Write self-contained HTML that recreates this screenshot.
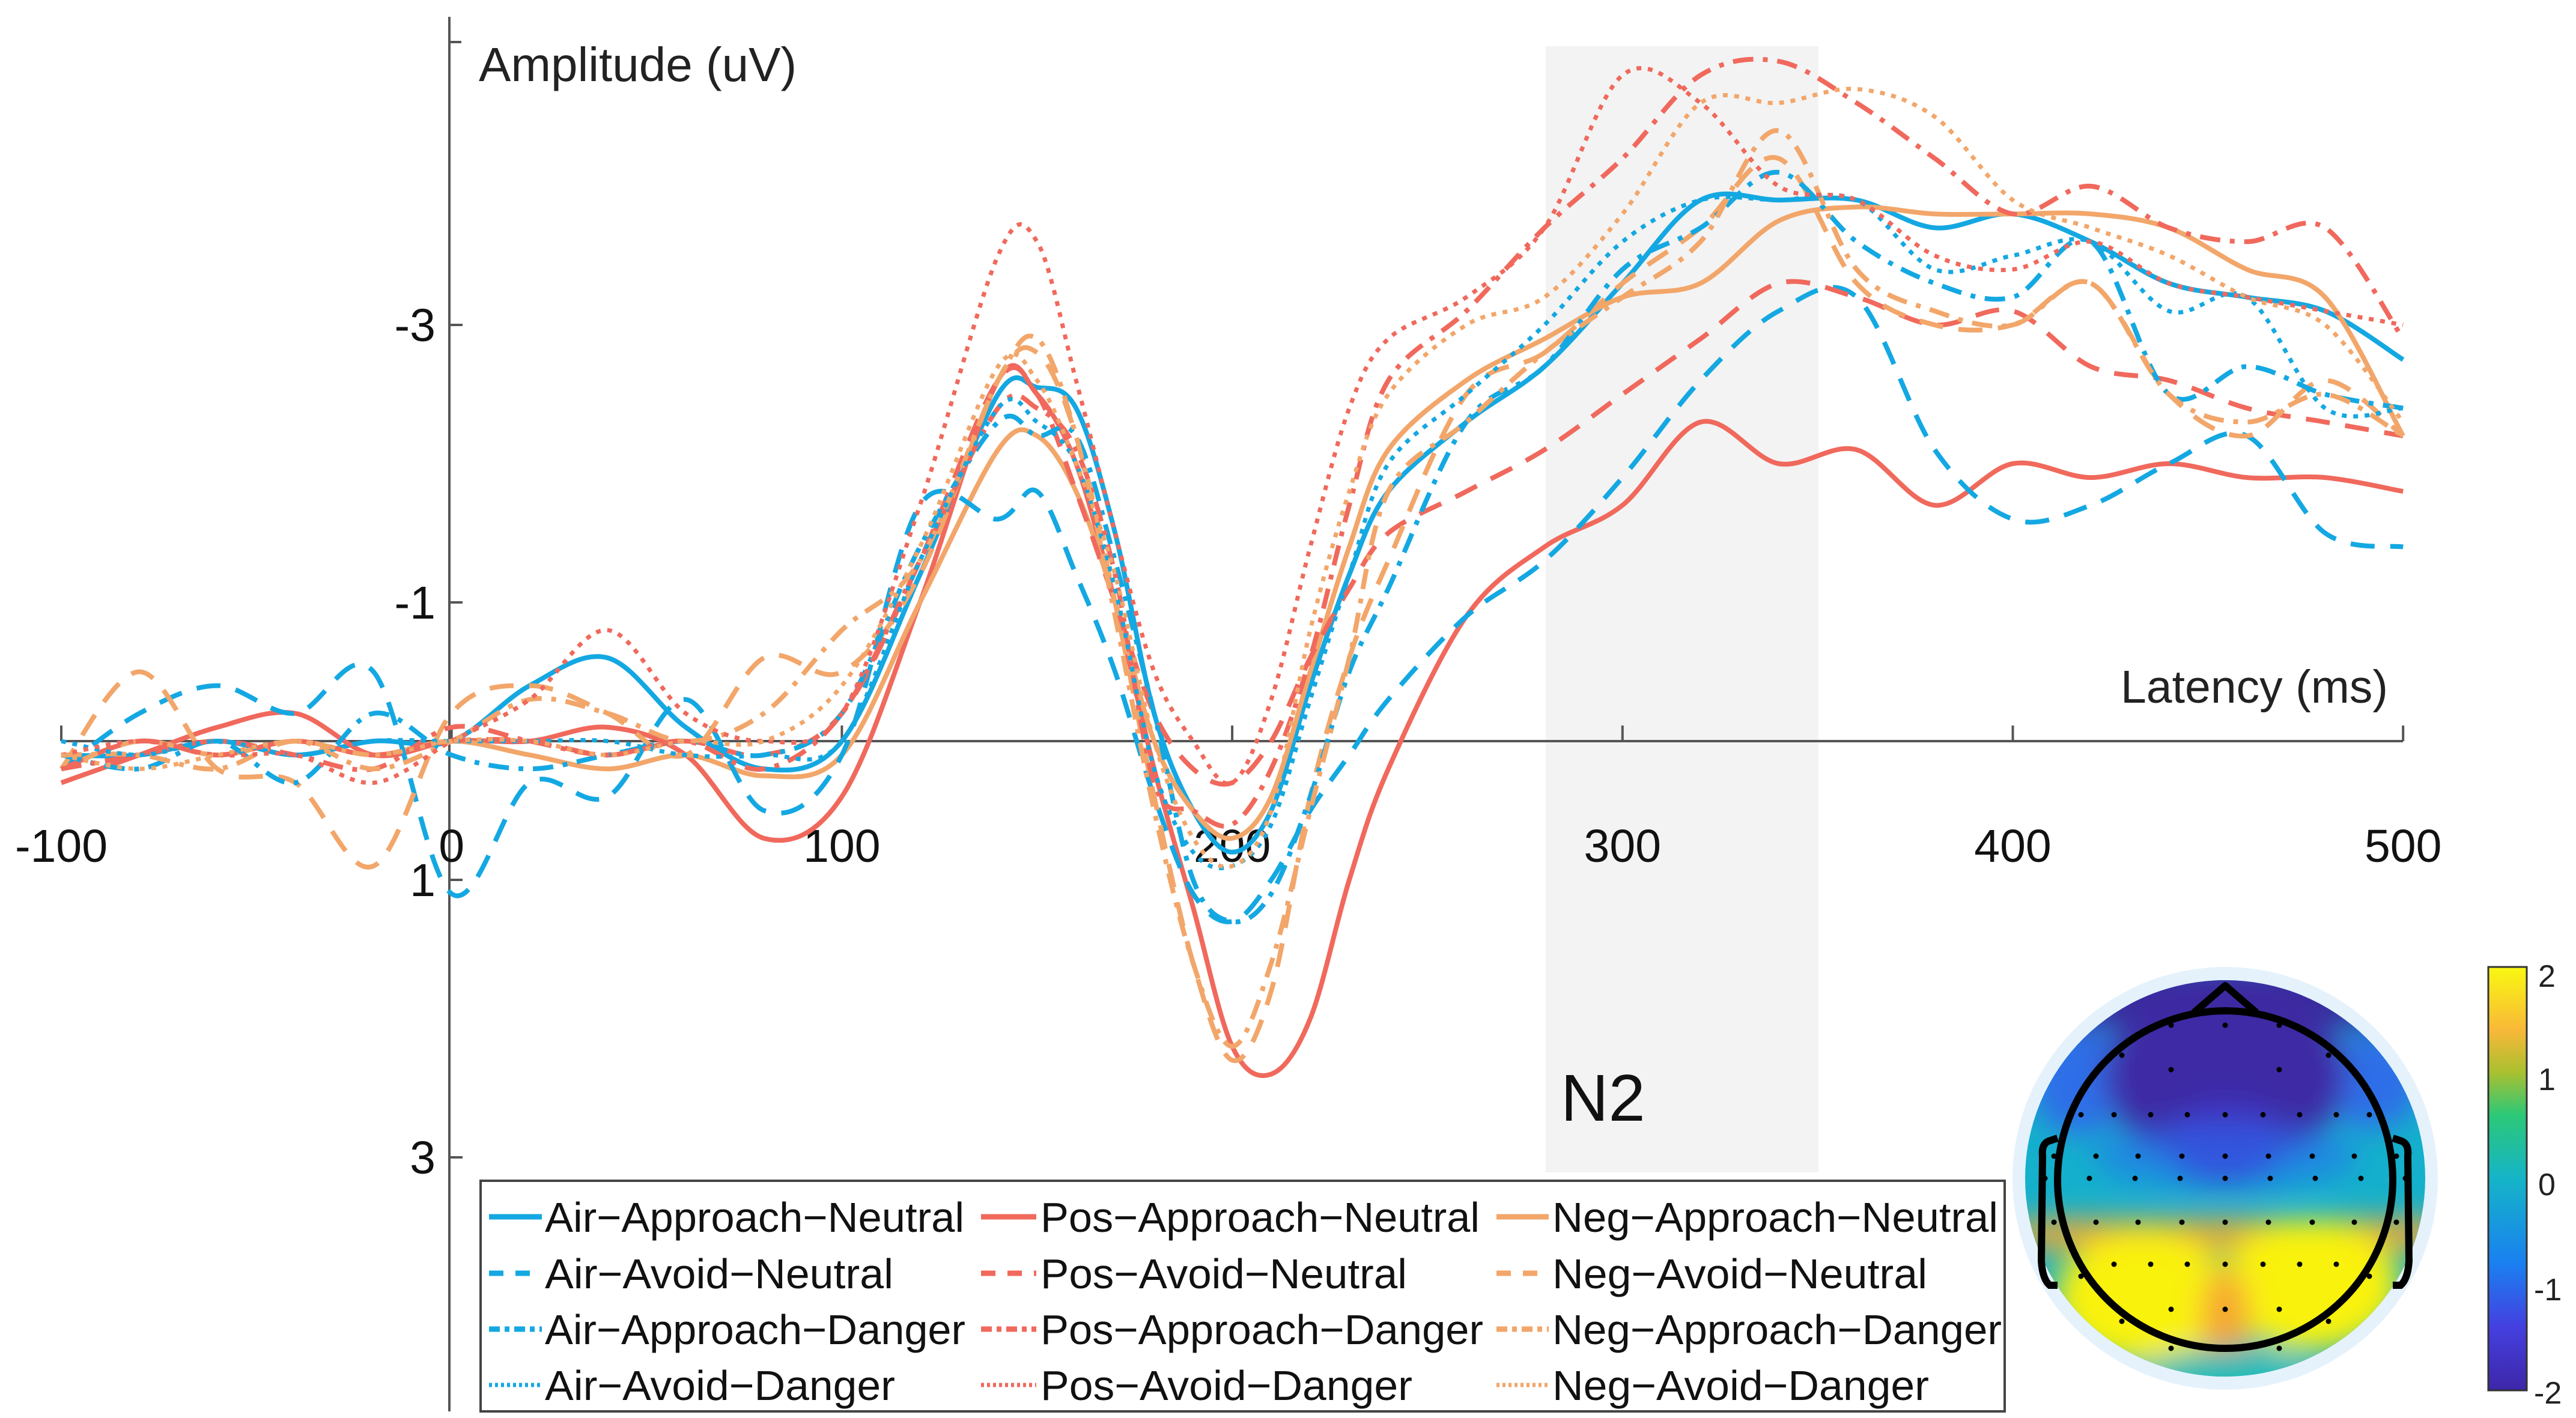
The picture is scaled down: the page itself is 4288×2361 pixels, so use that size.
<!DOCTYPE html>
<html><head><meta charset="utf-8"><style>
html,body{margin:0;padding:0;background:#fff}
svg{display:block;font-family:"Liberation Sans",sans-serif}
</style></head><body>
<svg id="chart" width="4288" height="2361" viewBox="0 0 4288 2361" xmlns="http://www.w3.org/2000/svg">
<defs>
<clipPath id="topoClip"><ellipse cx="3704" cy="1962" rx="333" ry="330"/></clipPath>
<filter id="blur" x="-50%" y="-50%" width="200%" height="200%"><feGaussianBlur stdDeviation="24"/></filter>
<linearGradient id="parula" x1="0" y1="1" x2="0" y2="0">
<stop offset="0" stop-color="#3e26a8"/><stop offset="0.15" stop-color="#4440e0"/>
<stop offset="0.3" stop-color="#1a80f0"/><stop offset="0.5" stop-color="#15b4c8"/>
<stop offset="0.65" stop-color="#2cc878"/><stop offset="0.75" stop-color="#a8c030"/>
<stop offset="0.85" stop-color="#f8b838"/><stop offset="1" stop-color="#f9f812"/>
</linearGradient>
</defs>
<rect x="2573" y="77" width="454" height="1875" fill="#f3f3f3"/>
<g id="axes"></g>
<g id="series"></g>
<text x="797" y="135" font-size="80" fill="#222">Amplitude (uV)</text>
<text x="3975" y="1170" font-size="77" fill="#222" text-anchor="end">Latency (ms)</text>
<text x="2598" y="1866" font-size="110" fill="#111">N2</text>
<g id="legend">
<rect x="800" y="1966" width="2537" height="384" fill="#fff" stroke="#444" stroke-width="4"/>
</g>
<g>
<ellipse cx="3704" cy="1962" rx="354" ry="352" fill="#e5f2fc"/>
<g clip-path="url(#topoClip)">
<rect x="3360" y="1620" width="700" height="700" fill="#14b0cc"/>
<g filter="url(#blur)">
<rect x="3360" y="1600" width="700" height="110" fill="#3a2a9e"/>
<ellipse cx="3460" cy="1800" rx="80" ry="90" fill="#2f6ee8"/>
<ellipse cx="3950" cy="1800" rx="80" ry="80" fill="#2f6ee8"/>
<ellipse cx="3704" cy="1790" rx="200" ry="150" fill="#3c2aa4"/>
<ellipse cx="3704" cy="1900" rx="95" ry="70" fill="#4030c0"/>
<ellipse cx="3704" cy="1925" rx="220" ry="55" fill="#2a6ef0" opacity="0.6"/>
<rect x="3360" y="2030" width="700" height="50" fill="#f0a830"/>
<ellipse cx="3570" cy="2160" rx="150" ry="110" fill="#f9f20e"/>
<ellipse cx="3845" cy="2140" rx="150" ry="110" fill="#f9f20e"/>
<ellipse cx="3704" cy="2200" rx="40" ry="90" fill="#f5a530"/>
<ellipse cx="3704" cy="2300" rx="150" ry="55" fill="#1cbcb8"/>
</g>
</g>
<ellipse cx="3704" cy="1964" rx="279" ry="281" fill="none" stroke="#000" stroke-width="12"/>
<path d="M3652 1686 L3704 1641 L3756 1686" fill="none" stroke="#000" stroke-width="12" stroke-linejoin="round"/>
<path d="M3425 1895 L3410 1900 Q3398 1905 3400 1925 L3398 2100 Q3400 2130 3412 2140 L3425 2140" fill="none" stroke="#000" stroke-width="12"/>
<path d="M3983 1895 L3998 1900 Q4010 1905 4008 1925 L4010 2100 Q4008 2130 3996 2140 L3983 2140" fill="none" stroke="#000" stroke-width="12"/>
<g id="dots" fill="#000"></g>
</g>
<g>
<rect x="4142" y="1610" width="64" height="705" fill="url(#parula)" stroke="#333" stroke-width="3"/>
<g font-size="52" fill="#222">
<text x="4225" y="1643">2</text><text x="4225" y="1815">1</text><text x="4225" y="1990">0</text>
<text x="4218" y="2165">-1</text><text x="4218" y="2337">-2</text>
</g>
</g>
</svg>
<script>
const times = [-100,-80,-60,-40,-20,0,20,40,60,80,100,120,140,150,160,170,180,190,200,210,220,230,240,260,280,300,320,340,360,380,400,420,440,460,480,500];
const xTicks = [-100,0,100,200,300,400,500];
const yTicks = [-3,-1,1,3];
const seriesNames = ["Air−Approach−Neutral","Pos−Approach−Neutral","Neg−Approach−Neutral","Air−Avoid−Neutral","Pos−Avoid−Neutral","Neg−Avoid−Neutral","Air−Approach−Danger","Pos−Approach−Danger","Neg−Approach−Danger","Air−Avoid−Danger","Pos−Avoid−Danger","Neg−Avoid−Danger"];
const airApproachNeutral = [0.1,0.1,0,0.1,0,0,-0.4,-0.6,-0.1,0.2,0,-1.2,-2.5,-2.55,-2.4,-1.5,-0.2,0.5,0.8,0.5,-0.4,-1.2,-1.8,-2.3,-2.7,-3.3,-3.9,-3.9,-3.9,-3.7,-3.8,-3.6,-3.3,-3.2,-3.1,-2.75];
const posApproachNeutral = [0.3,0.1,-0.1,-0.2,0.1,0,0,-0.1,0.1,0.7,0.4,-1.0,-2.6,-2.5,-2.0,-1.0,0.2,1.2,2.2,2.4,2.0,1.0,0.2,-0.9,-1.4,-1.7,-2.3,-2.0,-2.1,-1.7,-2.0,-1.9,-2.0,-1.9,-1.9,-1.8];
const negApproachNeutral = [0.2,0,0.1,0,0.1,0,0.1,0.2,0.1,0.25,0.1,-1.0,-2.1,-2.2,-1.8,-1.0,0.0,0.5,0.7,0.4,-0.5,-1.4,-2.1,-2.6,-2.9,-3.2,-3.3,-3.75,-3.85,-3.8,-3.8,-3.8,-3.7,-3.4,-3.2,-2.2];
const airAvoidNeutral = [0.2,-0.2,-0.4,-0.2,-0.5,1.1,0.3,0.4,-0.3,0.5,0.1,-1.7,-1.6,-1.8,-1.2,-0.5,0.4,1.1,1.3,1.0,0.5,0.1,-0.3,-0.9,-1.3,-1.9,-2.6,-3.1,-3.2,-2.1,-1.6,-1.7,-2.0,-2.2,-1.5,-1.4];
const posAvoidNeutral = [0.2,0,0.1,0,0.1,0,0,0.1,0,0.1,-0.2,-1.3,-2.6,-2.5,-1.8,-1.0,-0.2,0.2,0.3,0,-0.6,-1.1,-1.5,-1.8,-2.1,-2.5,-2.9,-3.3,-3.2,-3.0,-3.1,-2.7,-2.6,-2.4,-2.3,-2.2];
const negAvoidNeutral = [0.2,-0.5,0.2,0.3,0.9,-0.2,-0.4,-0.2,0.1,-0.6,-0.5,-1.2,-2.6,-2.8,-2.2,-1.0,0.4,1.6,2.3,1.8,0.4,-0.6,-1.3,-2.5,-2.8,-3.3,-3.7,-4.2,-3.3,-3.0,-3.0,-3.3,-2.5,-2.2,-2.6,-2.2];
const airApproachDanger = [0.1,0.2,0,0.3,-0.2,0.1,0.2,0.1,0,0.1,-0.2,-1.4,-2.3,-2.2,-2.2,-1.3,-0.2,1.0,1.3,1.1,0.4,-0.5,-1.1,-2.3,-2.7,-3.4,-3.7,-4.1,-3.6,-3.3,-3.2,-3.6,-2.5,-2.7,-2.5,-2.4];
const posApproachDanger = [0.2,0.1,0,0.1,0.2,-0.1,0,0.1,0,0.2,-0.2,-1.3,-2.4,-2.4,-2.1,-1.2,0.3,0.5,0.6,0.2,-0.6,-1.7,-2.6,-3.1,-3.7,-4.2,-4.8,-4.9,-4.6,-4.2,-3.8,-4.0,-3.7,-3.6,-3.7,-2.9];
const negApproachDanger = [0.1,0.1,0.2,0,0.2,0,-0.3,-0.2,0,-0.2,-0.8,-1.3,-2.6,-2.9,-2.2,-0.9,0.5,1.6,2.2,1.6,0.5,-0.6,-1.8,-2.3,-2.8,-3.2,-3.6,-4.4,-3.4,-3.1,-3.0,-3.3,-2.5,-2.3,-2.5,-2.2];
const airAvoidDanger = [0,0.1,0,0.1,0,0,0,0,0.1,0.1,0,-1.3,-2.4,-2.3,-2.0,-1.1,0.2,0.8,0.9,0.6,-0.3,-1.2,-2.0,-2.5,-3.0,-3.6,-3.9,-3.9,-3.9,-3.4,-3.5,-3.6,-3.1,-3.2,-2.4,-2.4];
const posAvoidDanger = [0.1,0,0.1,0.1,0.3,0,-0.3,-0.8,-0.2,0,-0.2,-1.7,-3.5,-3.6,-2.6,-1.5,-0.5,0,0.3,-0.3,-1.4,-2.4,-2.9,-3.2,-3.7,-4.8,-4.6,-4.0,-3.9,-3.5,-3.4,-3.6,-3.3,-3.2,-3.1,-3.0];
const negAvoidDanger = [0.1,0.2,0.1,0,0.1,0,0,0.1,0,0,-0.4,-1.4,-2.7,-2.6,-2.0,-1.2,0,0.7,0.9,0.5,-0.8,-1.8,-2.5,-3.0,-3.2,-3.8,-4.6,-4.6,-4.7,-4.5,-3.9,-3.7,-3.5,-3.2,-3.0,-2.3];

const NS = "http://www.w3.org/2000/svg";
const xs = ms => 102 + (ms + 100) * 6.497;
const ys = v => 1234 + v * 231;
const BLUE = "#14a8e2", RED = "#f0695c", ORANGE = "#f2a66a";
const DASH = {solid:null, dashed:"40 26", dashdot:"34 16 8 16", dotted:"8 11"};
const styles = [
 [BLUE,"solid"],[RED,"solid"],[ORANGE,"solid"],
 [BLUE,"dashed"],[RED,"dashed"],[ORANGE,"dashed"],
 [BLUE,"dashdot"],[RED,"dashdot"],[ORANGE,"dashdot"],
 [BLUE,"dotted"],[RED,"dotted"],[ORANGE,"dotted"]];
const allValues = [airApproachNeutral,posApproachNeutral,negApproachNeutral,airAvoidNeutral,posAvoidNeutral,negAvoidNeutral,airApproachDanger,posApproachDanger,negApproachDanger,airAvoidDanger,posAvoidDanger,negAvoidDanger];
const keys = ["air-approach-neutral","pos-approach-neutral","neg-approach-neutral","air-avoid-neutral","pos-avoid-neutral","neg-avoid-neutral","air-approach-danger","pos-approach-danger","neg-approach-danger","air-avoid-danger","pos-avoid-danger","neg-avoid-danger"];

function mk(tag, attrs, parent){const e=document.createElementNS(NS,tag);for(const k in attrs)e.setAttribute(k,attrs[k]);parent.appendChild(e);return e;}

const axes = document.getElementById("axes");
const xAxis = mk("line",{x1:102,x2:4000,y1:ys(0),y2:ys(0),stroke:"#555","stroke-width":4},axes);


const yAxis = mk("line",{x1:748,x2:748,y1:28,y2:2350,stroke:"#555","stroke-width":4},axes);


mk("line",{x1:748,x2:768,y1:70,y2:70,stroke:"#555","stroke-width":4},axes);
xTicks.forEach(t=>{
 mk("line",{x1:xs(t),x2:xs(t),y1:ys(0),y2:ys(0)-26,stroke:"#555","stroke-width":4},axes);
 const lb = mk("text",{x:xs(t),y:1435,"font-size":77,"text-anchor":"middle",fill:"#111"},axes);
 lb.textContent = String(t);
 
 
});
yTicks.forEach(t=>{
 mk("line",{x1:748,x2:770,y1:ys(t),y2:ys(t),stroke:"#555","stroke-width":4},axes);
 const lb = mk("text",{x:725,y:ys(t)+27,"font-size":77,"text-anchor":"end",fill:"#111"},axes);
 lb.textContent = String(t);
 
 
});

function pathFor(vals){
 const p = times.map((t,i)=>[xs(t),ys(vals[i])]);
 let d = "M"+p[0][0].toFixed(1)+" "+p[0][1].toFixed(1);
 for(let i=0;i<p.length-1;i++){
  const p0=p[Math.max(0,i-1)],p1=p[i],p2=p[i+1],p3=p[Math.min(p.length-1,i+2)];
  const c1=[p1[0]+(p2[0]-p0[0])/6,p1[1]+(p2[1]-p0[1])/6];
  const c2=[p2[0]-(p3[0]-p1[0])/6,p2[1]-(p3[1]-p1[1])/6];
  d+=" C"+c1[0].toFixed(1)+" "+c1[1].toFixed(1)+" "+c2[0].toFixed(1)+" "+c2[1].toFixed(1)+" "+p2[0].toFixed(1)+" "+p2[1].toFixed(1);
 }
 return d;
}
const sg = document.getElementById("series");
allValues.forEach((vals,i)=>{
 const [col,ls]=styles[i];
 const a={d:pathFor(vals),fill:"none",stroke:col,"stroke-width":ls==="dotted"?7:8,"stroke-linejoin":"round"};
 if(DASH[ls]) a["stroke-dasharray"]=DASH[ls];
 const el = mk("path",a,sg);
 
 
});

const lg = document.getElementById("legend");
const colLine = [[814,902],[1633,1725],[2491,2578]];
const colText = [907,1732,2584];
const rowY = [2026,2120,2213,2306];
const textW = [698,731,742,580,610,624,700,737,748,583,619,627];
seriesNames.forEach((n,i)=>{
 const c=i%3, r=Math.floor(i/3);
 const [col,ls]=styles[i];
 const a={x1:colLine[c][0],x2:colLine[c][1],y1:rowY[r],y2:rowY[r],stroke:col,"stroke-width":ls==="dotted"?7:9};
 if(DASH[ls]) a["stroke-dasharray"]=ls==="dashed"?"24 20":ls==="dashdot"?"18 8 8 8":"5 5";
 const ln = mk("line",a,lg);
 
 
 const tx = mk("text",{x:colText[c],y:rowY[r]+25,"font-size":70,fill:"#111",textLength:textW[i],lengthAdjust:"spacingAndGlyphs"},lg);
 tx.textContent = n;
 
 
});

const dg = document.getElementById("dots");
const dotRows = [[1707,[-90,0,90]],[1757,[-172,172]],[1781,[-90,90]],[1856,[-240,-185,-124,-63,0,63,124,185,240]],[1925,[-285,-215,-145,-72,0,72,145,215,285]],[1962,[-300,-226,-150,-75,0,75,150,226,300]],[2035,[-285,-215,-145,-72,0,72,145,215,285]],[2105,[-185,-124,-63,0,63,124,185]],[2125,[-240,240]],[2180,[-90,0,90]],[2200,[-172,172]],[2245,[-90,0,90]]];
dotRows.forEach(([y,xsArr])=>xsArr.forEach(dx=>{
 const c = mk("circle",{cx:3704+dx,cy:y,r:4.5},dg);
 
 
}));
</script>
</body></html>
